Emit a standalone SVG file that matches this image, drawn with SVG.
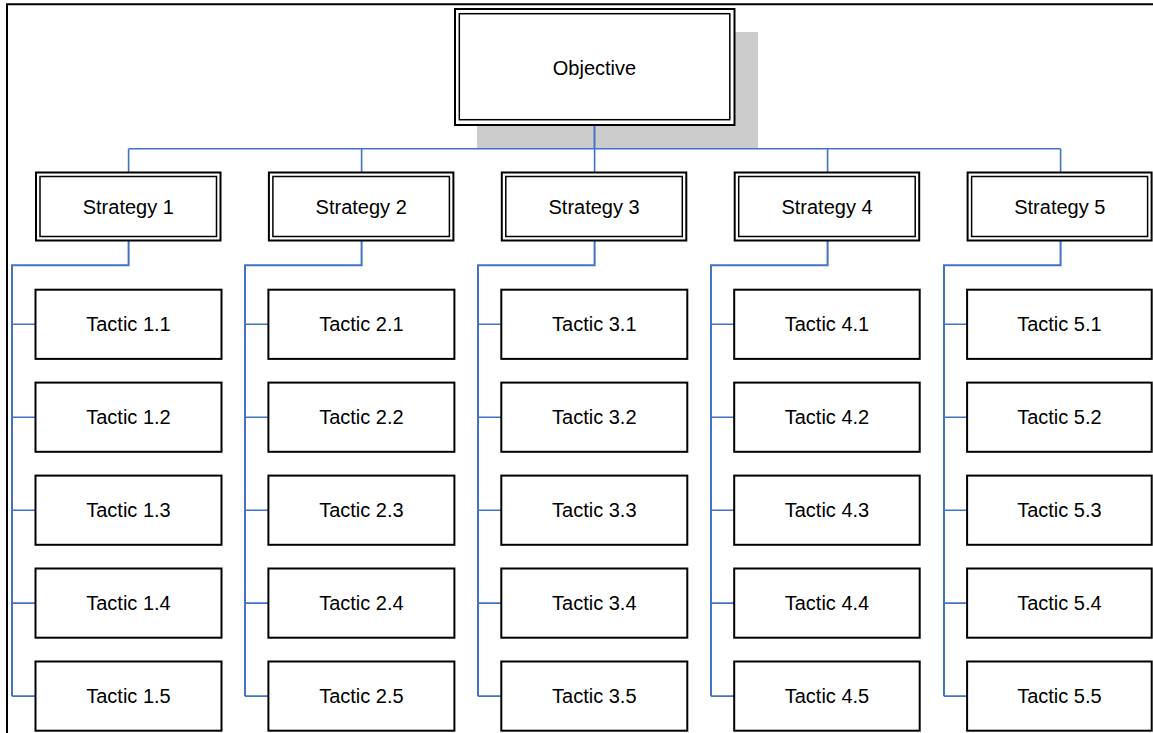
<svg xmlns="http://www.w3.org/2000/svg" width="1153" height="733" viewBox="0 0 1153 733">
  <style>
    .lbl { font-family: "Liberation Sans", Arial, sans-serif; font-size: 20px; fill: #000; text-anchor: middle; }
    .box { fill: #fff; stroke: #000; stroke-width: 2; }
    .inner { fill: none; stroke: #000; stroke-width: 1.5; }
    .conn { fill: none; stroke: #4472c4; stroke-width: 2; }
    .thin { fill: none; stroke: #4472c4; stroke-width: 1.6; }
  </style>
  <rect width="1153" height="733" fill="#fff"/>
  <!-- page frame -->
  <path d="M7 733 V4.3 H1153" fill="none" stroke="#000" stroke-width="2"/>

  <!-- objective shadow -->
  <rect x="477" y="32" width="281" height="116.5" fill="#cccccc"/>

  <g id="connectors">
    <path class="conn" d="M594.5 126 V148.8"/>
    <path class="thin" d="M128.6 148.8 H1060.6"/>
    <path class="thin" d="M128.6 148.8 V172.5 M361.6 148.8 V172.5 M594.6 148.8 V172.5 M827.6 148.8 V172.5 M1060.6 148.8 V172.5"/>
    <path class="conn" d="M128.6 240.5 V265.3 H12 V696.2"/>
    <path class="conn" d="M361.6 240.5 V265.3 H245 V696.2"/>
    <path class="conn" d="M594.6 240.5 V265.3 H478 V696.2"/>
    <path class="conn" d="M827.6 240.5 V265.3 H711 V696.2"/>
    <path class="conn" d="M1060.6 240.5 V265.3 H944 V696.2"/>
    <path class="thin" d="M12 324.3 H35.5 M12 417.2 H35.5 M12 510.2 H35.5 M12 603.1 H35.5 M12 696.1 H35.5"/>
    <path class="thin" d="M245 324.3 H268.4 M245 417.2 H268.4 M245 510.2 H268.4 M245 603.1 H268.4 M245 696.1 H268.4"/>
    <path class="thin" d="M478 324.3 H501.3 M478 417.2 H501.3 M478 510.2 H501.3 M478 603.1 H501.3 M478 696.1 H501.3"/>
    <path class="thin" d="M711 324.3 H734.2 M711 417.2 H734.2 M711 510.2 H734.2 M711 603.1 H734.2 M711 696.1 H734.2"/>
    <path class="thin" d="M944 324.3 H967.1 M944 417.2 H967.1 M944 510.2 H967.1 M944 603.1 H967.1 M944 696.1 H967.1"/>
  </g>

  <g id="objective">
    <rect class="box" x="455" y="9" width="279.5" height="116"/>
    <rect class="inner" x="459.3" y="13.7" width="270.5" height="106"/>
    <text class="lbl" x="594.5" y="74.5">Objective</text>
  </g>

  <g id="strategy-1">
    <rect class="box" x="36" y="172.5" width="184.5" height="68"/>
    <rect class="inner" x="40" y="176.5" width="176.5" height="60"/>
    <text class="lbl" x="128.3" y="213.5">Strategy 1</text>
  </g>
  <g id="strategy-2">
    <rect class="box" x="268.9" y="172.5" width="184.5" height="68"/>
    <rect class="inner" x="272.9" y="176.5" width="176.5" height="60"/>
    <text class="lbl" x="361.2" y="213.5">Strategy 2</text>
  </g>
  <g id="strategy-3">
    <rect class="box" x="501.8" y="172.5" width="184.5" height="68"/>
    <rect class="inner" x="505.8" y="176.5" width="176.5" height="60"/>
    <text class="lbl" x="594.1" y="213.5">Strategy 3</text>
  </g>
  <g id="strategy-4">
    <rect class="box" x="734.7" y="172.5" width="184.5" height="68"/>
    <rect class="inner" x="738.7" y="176.5" width="176.5" height="60"/>
    <text class="lbl" x="827" y="213.5">Strategy 4</text>
  </g>
  <g id="strategy-5">
    <rect class="box" x="967.6" y="172.5" width="184" height="68"/>
    <rect class="inner" x="971.6" y="176.5" width="176" height="60"/>
    <text class="lbl" x="1059.8" y="213.5">Strategy 5</text>
  </g>

  <!-- tactics: column 1 -->
  <g id="tactic-1-1"><rect class="box" x="35.5" y="289.7" width="186" height="69.2"/><text class="lbl" x="128.5" y="331.3">Tactic 1.1</text></g>
  <g id="tactic-1-2"><rect class="box" x="35.5" y="382.6" width="186" height="69.2"/><text class="lbl" x="128.5" y="424.2">Tactic 1.2</text></g>
  <g id="tactic-1-3"><rect class="box" x="35.5" y="475.6" width="186" height="69.2"/><text class="lbl" x="128.5" y="517.2">Tactic 1.3</text></g>
  <g id="tactic-1-4"><rect class="box" x="35.5" y="568.5" width="186" height="69.2"/><text class="lbl" x="128.5" y="610.1">Tactic 1.4</text></g>
  <g id="tactic-1-5"><rect class="box" x="35.5" y="661.5" width="186" height="69.2"/><text class="lbl" x="128.5" y="703.1">Tactic 1.5</text></g>

  <!-- tactics: column 2 -->
  <g id="tactic-2-1"><rect class="box" x="268.4" y="289.7" width="186" height="69.2"/><text class="lbl" x="361.4" y="331.3">Tactic 2.1</text></g>
  <g id="tactic-2-2"><rect class="box" x="268.4" y="382.6" width="186" height="69.2"/><text class="lbl" x="361.4" y="424.2">Tactic 2.2</text></g>
  <g id="tactic-2-3"><rect class="box" x="268.4" y="475.6" width="186" height="69.2"/><text class="lbl" x="361.4" y="517.2">Tactic 2.3</text></g>
  <g id="tactic-2-4"><rect class="box" x="268.4" y="568.5" width="186" height="69.2"/><text class="lbl" x="361.4" y="610.1">Tactic 2.4</text></g>
  <g id="tactic-2-5"><rect class="box" x="268.4" y="661.5" width="186" height="69.2"/><text class="lbl" x="361.4" y="703.1">Tactic 2.5</text></g>

  <!-- tactics: column 3 -->
  <g id="tactic-3-1"><rect class="box" x="501.3" y="289.7" width="186" height="69.2"/><text class="lbl" x="594.3" y="331.3">Tactic 3.1</text></g>
  <g id="tactic-3-2"><rect class="box" x="501.3" y="382.6" width="186" height="69.2"/><text class="lbl" x="594.3" y="424.2">Tactic 3.2</text></g>
  <g id="tactic-3-3"><rect class="box" x="501.3" y="475.6" width="186" height="69.2"/><text class="lbl" x="594.3" y="517.2">Tactic 3.3</text></g>
  <g id="tactic-3-4"><rect class="box" x="501.3" y="568.5" width="186" height="69.2"/><text class="lbl" x="594.3" y="610.1">Tactic 3.4</text></g>
  <g id="tactic-3-5"><rect class="box" x="501.3" y="661.5" width="186" height="69.2"/><text class="lbl" x="594.3" y="703.1">Tactic 3.5</text></g>

  <!-- tactics: column 4 -->
  <g id="tactic-4-1"><rect class="box" x="734.2" y="289.7" width="185.5" height="69.2"/><text class="lbl" x="827" y="331.3">Tactic 4.1</text></g>
  <g id="tactic-4-2"><rect class="box" x="734.2" y="382.6" width="185.5" height="69.2"/><text class="lbl" x="827" y="424.2">Tactic 4.2</text></g>
  <g id="tactic-4-3"><rect class="box" x="734.2" y="475.6" width="185.5" height="69.2"/><text class="lbl" x="827" y="517.2">Tactic 4.3</text></g>
  <g id="tactic-4-4"><rect class="box" x="734.2" y="568.5" width="185.5" height="69.2"/><text class="lbl" x="827" y="610.1">Tactic 4.4</text></g>
  <g id="tactic-4-5"><rect class="box" x="734.2" y="661.5" width="185.5" height="69.2"/><text class="lbl" x="827" y="703.1">Tactic 4.5</text></g>

  <!-- tactics: column 5 -->
  <g id="tactic-5-1"><rect class="box" x="967.1" y="289.7" width="184.6" height="69.2"/><text class="lbl" x="1059.4" y="331.3">Tactic 5.1</text></g>
  <g id="tactic-5-2"><rect class="box" x="967.1" y="382.6" width="184.6" height="69.2"/><text class="lbl" x="1059.4" y="424.2">Tactic 5.2</text></g>
  <g id="tactic-5-3"><rect class="box" x="967.1" y="475.6" width="184.6" height="69.2"/><text class="lbl" x="1059.4" y="517.2">Tactic 5.3</text></g>
  <g id="tactic-5-4"><rect class="box" x="967.1" y="568.5" width="184.6" height="69.2"/><text class="lbl" x="1059.4" y="610.1">Tactic 5.4</text></g>
  <g id="tactic-5-5"><rect class="box" x="967.1" y="661.5" width="184.6" height="69.2"/><text class="lbl" x="1059.4" y="703.1">Tactic 5.5</text></g>
</svg>
